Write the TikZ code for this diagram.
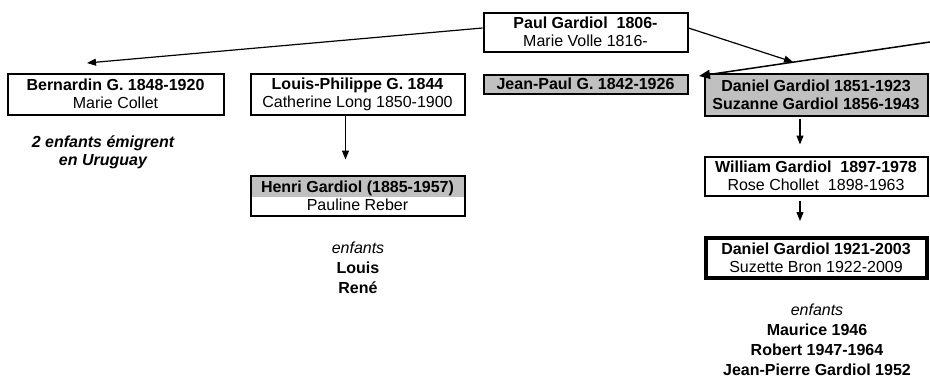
\documentclass[tikz,border=0pt]{standalone}
\usepackage{fontspec}
\setmainfont{Liberation Sans}
\usetikzlibrary{arrows.meta}
\definecolor{boxgray}{HTML}{C0C0C0}
\begin{document}
\begin{tikzpicture}[x=1pt,y=-1pt,
  every node/.style={font=\fontsize{16}{18}\selectfont, align=center, inner sep=0pt},
  fam/.style={draw, line width=2pt},
  arr/.style={line width=1.2pt, -{Triangle[length=9pt,width=7pt]}},
  bigarr/.style={line width=1.5pt, -{Triangle[length=11pt,width=9pt]}},
  list/.style={font=\fontsize{16}{20}\selectfont},
  note/.style={font=\fontsize{16}{18}\selectfont\bfseries\itshape}
  ]
\useasboundingbox (0,0) rectangle (930,378);

\node[fam, minimum width=204pt, minimum height=39pt] (paul) at (585.5,32)
  {\textbf{Paul Gardiol\ \ 1806-}\\Marie Volle 1816-};
\node[fam, fill=boxgray, minimum width=204pt, minimum height=19pt] (jp) at (585.5,84)
  {\textbf{Jean-Paul G. 1842-1926}};
\node[fam, minimum width=216pt, minimum height=41pt] (bern) at (115.5,94)
  {\textbf{Bernardin G. 1848-1920}\\Marie Collet};
\node[fam, minimum width=214pt, minimum height=41pt] (lp) at (357.5,94)
  {\textbf{Louis-Philippe G. 1844}\\Catherine Long 1850-1900};
\node[fam, fill=boxgray, minimum width=223pt, minimum height=42pt] (dan) at (816,94.5)
  {\textbf{Daniel Gardiol 1851-1923}\\\textbf{Suzanne Gardiol 1856-1943}};
\node[fam, minimum width=223pt, minimum height=39pt] (wil) at (816,176)
  {\textbf{William Gardiol\ \ 1897-1978}\\Rose Chollet\ \ 1898-1963};
\node[fam, line width=4pt, minimum width=221pt, minimum height=40pt] (dan2) at (816,258)
  {\textbf{Daniel Gardiol 1921-2003}\\Suzette Bron 1922-2009};
\node[fam, minimum width=214pt, minimum height=40pt,
  path picture={\fill[boxgray] (path picture bounding box.north west) rectangle ([yshift=-21pt]path picture bounding box.north east);}]
  (henri) at (357.5,195.5)
  {\textbf{Henri Gardiol (1885-1957)}\\Pauline Reber};

\node[note] (emig) at (103,152) {2 enfants émigrent\\en Uruguay};
\node[list] (kidsL) at (358,268) {\textit{enfants}\\\textbf{Louis}\\\textbf{René}};
\node[list] (kidsR) at (817,340) {\textit{enfants}\\\textbf{Maurice 1946}\\\textbf{Robert 1947-1964}\\\textbf{Jean-Pierre Gardiol 1952}};

\coordinate (bt) at (87,63);
\coordinate (ext) at (930,42);
\coordinate (dt) at (699,76);
\coordinate (pt) at (793,62);

\draw[arr] ([yshift=4pt]paul.west) -- (bt);
\draw[arr] ([yshift=4pt]paul.east) -- (pt);
\draw[bigarr] (ext) -- (dt);
\draw[arr, shorten <=2pt, shorten >=11pt] ([xshift=-16pt]dan.south) -- ([xshift=-16pt]wil.north);
\draw[arr, shorten <=4pt, shorten >=15pt] ([xshift=-16pt]wil.south) -- ([xshift=-16pt]dan2.north);
\draw[arr, shorten >=15pt] ([xshift=-12pt]lp.south) -- ([xshift=-12pt]henri.north);
\end{tikzpicture}
\end{document}
